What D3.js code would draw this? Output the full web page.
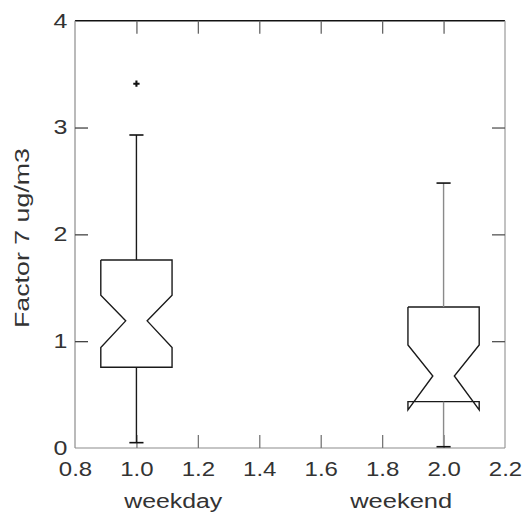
<!DOCTYPE html>
<html>
<head>
<meta charset="utf-8">
<script src="https://cdn.jsdelivr.net/npm/d3@7"></script>
<style>
  html, body { margin: 0; padding: 0; background: #fff; }
  svg { display: block; font-family: "Liberation Sans", Arial, sans-serif; }
</style>
</head>
<body>
<svg id="chart" width="522" height="513"></svg>
<script>
// Notched box plot of Factor 7 concentrations, weekday vs weekend
const groups       = ["weekday", "weekend"];
const positions    = [1.0, 2.0];
const whiskerLow   = [0.05, 0.012];
const q1           = [0.756, 0.434];
const median       = [1.19, 0.674];
const q3           = [1.76, 1.32];
const whiskerHigh  = [2.93, 2.48];
const notchLow     = [0.94, 0.356];
const notchHigh    = [1.43, 0.964];
const outliers     = [[3.41], []];
const groupLabelAt = [1.12, 1.862];
const xTicks = [0.8, 1.0, 1.2, 1.4, 1.6, 1.8, 2.0, 2.2];
const yTicks = [0, 1, 2, 3, 4];
const yLabel = "Factor 7 ug/m3";

const svg = d3.select("#chart");
const plotLeft = 75, plotRight = 505, plotTop = 20.7, plotBottom = 448;

const x = d3.scaleLinear().domain([0.8, 2.2]).range([plotLeft, plotRight]);
const y = d3.scaleLinear().domain([0, 4]).range([plotBottom, plotTop]);

const boxHalf = 0.116, notchHalf = 0.035, capHalf = 0.023;
const whiskerColor = ["#1a1a1a", "#8a8a8a"];
const textColor = "#333";

// frame
svg.append("line").attr("x1", plotLeft).attr("x2", plotRight).attr("y1", plotTop).attr("y2", plotTop)
  .attr("stroke", "#111").attr("stroke-width", 1.4);
svg.append("line").attr("x1", plotLeft).attr("x2", plotLeft).attr("y1", plotTop).attr("y2", plotBottom)
  .attr("stroke", "#8c8c8c").attr("stroke-width", 1.2);
svg.append("line").attr("x1", plotRight).attr("x2", plotRight).attr("y1", plotTop).attr("y2", plotBottom)
  .attr("stroke", "#999").attr("stroke-width", 1.2);
svg.append("line").attr("x1", plotLeft).attr("x2", plotRight).attr("y1", plotBottom).attr("y2", plotBottom)
  .attr("stroke", "#8c8c8c").attr("stroke-width", 1.2);

const tickLen = -13;
function styleAxis(g, color) {
  g.select(".domain").remove();
  g.selectAll(".tick line").attr("stroke", color).attr("stroke-width", 1.3);
  g.selectAll(".tick text").attr("fill", textColor).style("font-size", "20px");
}

svg.append("g").attr("transform", `translate(0,${plotBottom})`)
  .call(d3.axisBottom(x).tickValues(xTicks).tickFormat(d3.format(".1f"))
    .tickSizeInner(tickLen).tickSizeOuter(0).tickPadding(14))
  .call(g => styleAxis(g, "#777"))
  .call(g => g.selectAll(".tick text").attr("transform", "scale(1.2,1)"))
  .call(g => g.selectAll(".tick line").filter(d => d === 0.8 || d === 2.2).remove());

svg.append("g").attr("transform", `translate(0,${plotTop})`)
  .call(d3.axisTop(x).tickValues(xTicks.filter(d => d > 0.8 && d < 2.2)).tickFormat("")
    .tickSizeInner(tickLen).tickSizeOuter(0))
  .call(g => styleAxis(g, "#666"));

svg.append("g").attr("transform", `translate(${plotLeft},0)`)
  .call(d3.axisLeft(y).tickValues(yTicks).tickFormat(d3.format("d"))
    .tickSizeInner(tickLen).tickSizeOuter(0).tickPadding(6))
  .call(g => styleAxis(g, "#444"))
  .call(g => g.selectAll(".tick text").attr("transform", "scale(1.25,1)"))
  .call(g => g.selectAll(".tick line").filter(d => d === 0 || d === 4).remove());

svg.append("g").attr("transform", `translate(${plotRight},0)`)
  .call(d3.axisRight(y).tickValues(yTicks.filter(d => d > 0 && d < 4)).tickFormat("")
    .tickSizeInner(tickLen).tickSizeOuter(0))
  .call(g => styleAxis(g, "#555"));

// boxes
const line = d3.line().x(d => x(d[0])).y(d => y(d[1]));
groups.forEach((name, i) => {
  const p = positions[i];
  const g = svg.append("g").attr("class", "box " + name);
  const pts = [
    [p - boxHalf, q3[i]], [p - boxHalf, notchHigh[i]], [p - notchHalf, median[i]],
    [p - boxHalf, notchLow[i]], [p - boxHalf, q1[i]], [p + boxHalf, q1[i]],
    [p + boxHalf, notchLow[i]], [p + notchHalf, median[i]], [p + boxHalf, notchHigh[i]],
    [p + boxHalf, q3[i]], [p - boxHalf, q3[i]]
  ];
  g.append("path").attr("d", line(pts)).attr("fill", "none")
    .attr("stroke", "#1a1a1a").attr("stroke-width", 1.4).attr("stroke-linejoin", "miter");

  // whiskers
  [[q3[i], whiskerHigh[i]], [q1[i], whiskerLow[i]]].forEach(([a, b]) => {
    g.append("line").attr("x1", x(p)).attr("x2", x(p)).attr("y1", y(a)).attr("y2", y(b))
      .attr("stroke", whiskerColor[i]).attr("stroke-width", 1.4);
    g.append("line").attr("x1", x(p - capHalf)).attr("x2", x(p + capHalf))
      .attr("y1", y(b)).attr("y2", y(b))
      .attr("stroke", "#111").attr("stroke-width", 1.6);
  });

  // outliers
  outliers[i].forEach(v => {
    g.append("path").attr("d", d3.symbol(d3.symbolCross, 22)())
      .attr("transform", `translate(${x(p)},${y(v)})`).attr("fill", "#111");
  });

  // group label
  svg.append("text").attr("x", x(groupLabelAt[i])).attr("y", 508)
    .attr("text-anchor", "middle").attr("fill", textColor).style("font-size", "19.5px")
    .attr("textLength", i === 0 ? 98 : 102).attr("lengthAdjust", "spacingAndGlyphs")
    .text(name);
});

// y axis title
svg.append("text").attr("transform", `translate(29,238) rotate(-90)`)
  .attr("text-anchor", "middle").attr("fill", textColor).style("font-size", "21px")
  .attr("textLength", 180).attr("lengthAdjust", "spacingAndGlyphs")
  .text(yLabel);
</script>
</body>
</html>
